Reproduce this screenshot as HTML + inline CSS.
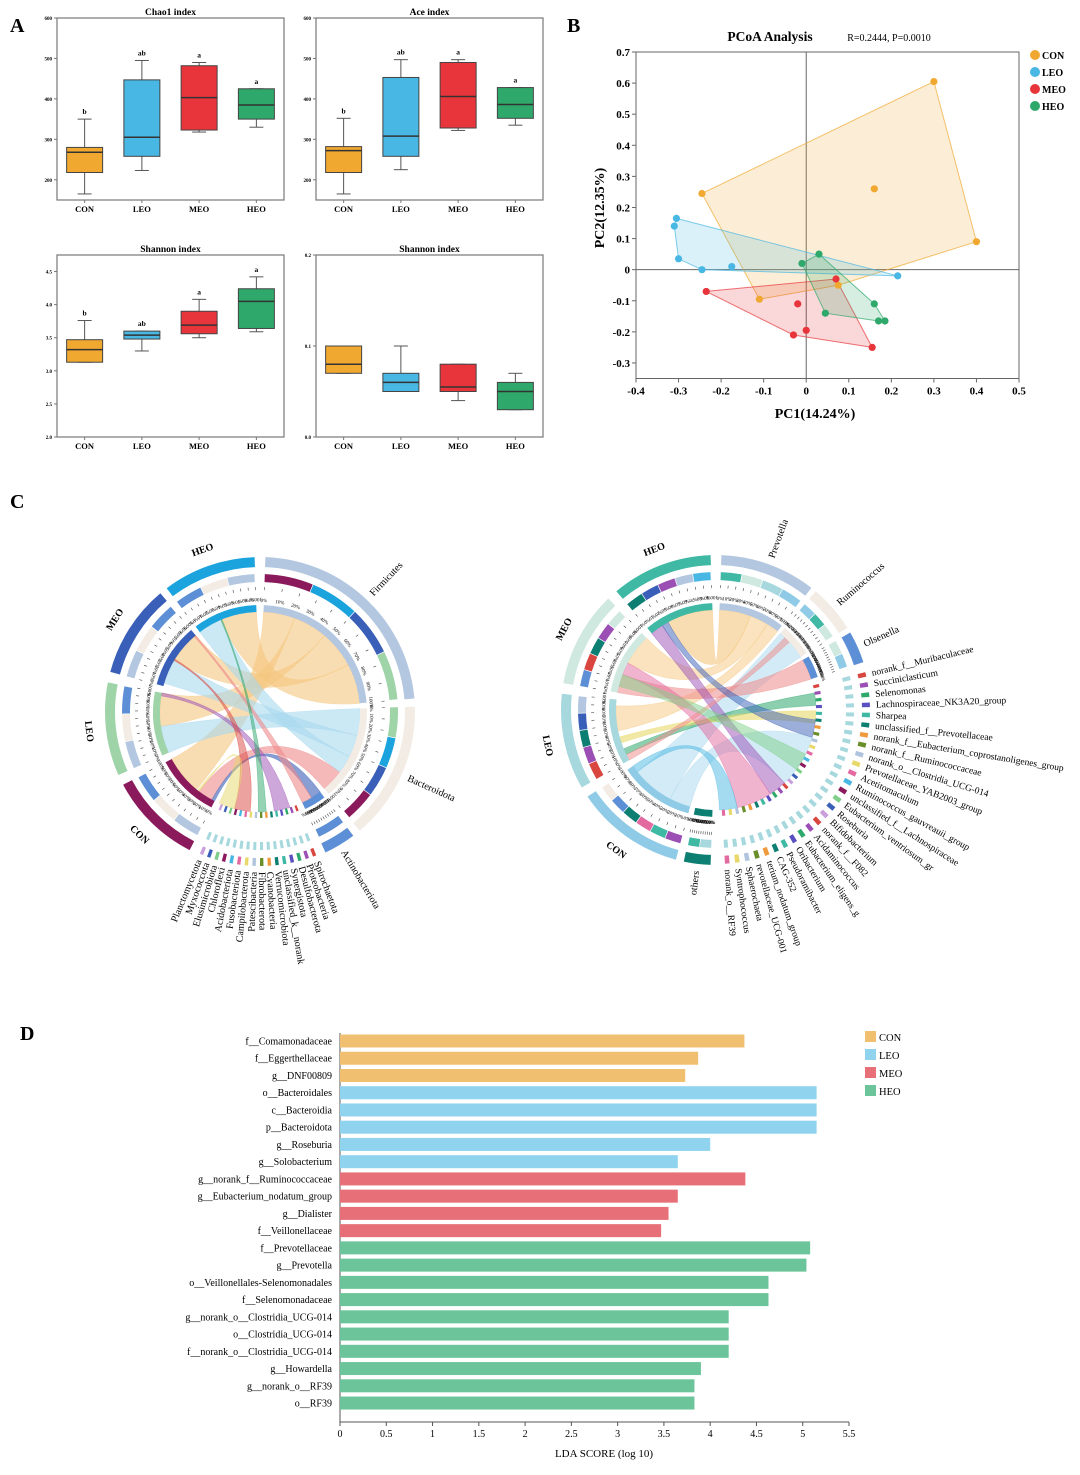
<!DOCTYPE html>
<html><head><meta charset="utf-8">
<style>
html,body{margin:0;padding:0;background:#fff;}
svg{display:block;font-family:"Liberation Serif",serif;}
</style></head>
<body>
<svg id="fig" width="1080" height="1475" viewBox="0 0 1080 1475" xmlns="http://www.w3.org/2000/svg">
<text x="10" y="32" font-size="20" font-weight="bold">A</text>
<text x="567" y="32" font-size="20" font-weight="bold">B</text>
<text x="10" y="508" font-size="20" font-weight="bold">C</text>
<text x="20" y="1040" font-size="20" font-weight="bold">D</text>
<g id="pa"></g><g id="pb"></g><g id="pc"></g><g id="pd"></g>
</svg>
<script>
const NS="http://www.w3.org/2000/svg";
function mk(p,t,a,txt){const e=document.createElementNS(NS,t);for(const k in a)e.setAttribute(k,a[k]);if(txt!==undefined)e.textContent=txt;p.appendChild(e);return e;}
const groups=["CON","LEO","MEO","HEO"];
const gcol=["#f0a830","#49b7e3","#e8353b","#2ea86b"];

// ---------- Panel A data ----------
const chaoBox=[[165,218,268,280,350],[223,258,305,447,495],[318,323,403,482,490],[330,350,385,425,425]];
const chaoLetters=["b","ab","a","a"];
const aceBox=[[165,218,272,282,352],[225,258,308,453,497],[322,328,406,490,497],[335,352,386,428,428]];
const aceLetters=["b","ab","a","a"];
const shanBox=[[3.13,3.13,3.32,3.47,3.76],[3.3,3.48,3.54,3.6,3.6],[3.5,3.56,3.69,3.9,4.08],[3.59,3.64,4.05,4.24,4.42]];
const shanLetters=["b","ab","a","a"];
const simpBox=[[0.07,0.07,0.08,0.1,0.1],[0.05,0.05,0.06,0.07,0.1],[0.04,0.05,0.055,0.08,0.08],[0.03,0.03,0.05,0.06,0.07]];
const simpLetters=["","","",""];
const chaoTicks=[200,300,400,500,600];
const shanTicks=[2.0,2.5,3.0,3.5,4.0,4.5];
const simpTicks=[0.0,0.1,0.2];

function boxPlot(name,title,x0,y0,w,h,dmin,dmax,ticks,boxes,letters,fmt){
  const g=mk(document.getElementById('pa'),'g',{});
  
  
  const ys=v=>y0+h-(v-dmin)/(dmax-dmin)*h;
  const t=mk(g,'text',{x:x0+w/2,y:y0-3,'font-size':9.5,'font-weight':'bold','text-anchor':'middle'},title);
  
  mk(g,'rect',{x:x0,y:y0,width:w,height:h,fill:'none',stroke:'#777','stroke-width':1.2});
  ticks.forEach(v=>{const y=ys(v);mk(g,'line',{x1:x0-3,x2:x0,y1:y,y2:y,stroke:'#777'});
    const tl=mk(g,'text',{x:x0-5,y:y+2,'font-size':5,'text-anchor':'end','font-weight':'bold'},fmt(v));
    });
  const step=w/4;
  boxes.forEach((b,i)=>{const cx=x0+step*(i+0.5)+(i-1.5)*0.5;const bw=36;
    mk(g,'line',{x1:cx,x2:cx,y1:y0+h,y2:y0+h+3,stroke:'#777'});
    const xl=mk(g,'text',{x:cx,y:y0+h+12,'font-size':8.5,'font-weight':'bold','text-anchor':'middle'},groups[i]);
    
    mk(g,'line',{x1:cx,x2:cx,y1:ys(b[0]),y2:ys(b[4]),stroke:'#555','stroke-width':1});
    mk(g,'line',{x1:cx-7,x2:cx+7,y1:ys(b[0]),y2:ys(b[0]),stroke:'#555'});
    mk(g,'line',{x1:cx-7,x2:cx+7,y1:ys(b[4]),y2:ys(b[4]),stroke:'#555'});
    const r=mk(g,'rect',{x:cx-bw/2,y:ys(b[3]),width:bw,height:ys(b[1])-ys(b[3]),fill:gcol[i],stroke:'#444','stroke-width':1});
    
    mk(g,'line',{x1:cx-bw/2,x2:cx+bw/2,y1:ys(b[2]),y2:ys(b[2]),stroke:'#333','stroke-width':1.5});
    if(letters[i]) mk(g,'text',{x:cx,y:ys(b[4])-5,'font-size':7.5,'font-weight':'bold','text-anchor':'middle'},letters[i]);
  });
}
boxPlot('chao1-boxplot','Chao1 index',57,18,227,182,150,600,chaoTicks,chaoBox,chaoLetters,v=>v);
boxPlot('ace-boxplot','Ace index',316,18,227,182,150,600,chaoTicks,aceBox,aceLetters,v=>v);
boxPlot('shannon-boxplot','Shannon index',57,255,227,182,2.0,4.75,shanTicks,shanBox,shanLetters,v=>v.toFixed(1));
boxPlot('simpson-boxplot','Shannon index',316,255,227,182,0,0.2,simpTicks,simpBox,simpLetters,v=>v.toFixed(1));

// ---------- Panel B data ----------
const pcoaX={CON:[-0.245,0.3,0.4,0.16,-0.11,0.075],LEO:[-0.305,-0.31,-0.3,-0.245,-0.175,0.215],MEO:[-0.235,-0.02,0,-0.03,0.155,0.07],HEO:[-0.01,0.03,0.16,0.185,0.17,0.045]};
const pcoaY={CON:[0.245,0.605,0.09,0.26,-0.095,-0.05],LEO:[0.165,0.14,0.035,0,0.01,-0.02],MEO:[-0.07,-0.11,-0.195,-0.21,-0.25,-0.03],HEO:[0.02,0.05,-0.11,-0.165,-0.165,-0.14]};
const pcoaXTicks=[-0.4,-0.3,-0.2,-0.1,0,0.1,0.2,0.3,0.4,0.5];
const pcoaYTicks=[-0.3,-0.2,-0.1,0,0.1,0.2,0.3,0.4,0.5,0.6,0.7];
(function(){
  const g=mk(document.getElementById('pb'),'g',{});
  
  const X0=636,X1=1019,Y0=52,Y1=378.5;
  const xs=v=>X0+(v+0.4)/0.9*(X1-X0), ys=v=>Y0+(0.7-v)/1.05*(Y1-Y0);
  mk(g,'text',{x:770,y:41,'font-size':13.5,'font-weight':'bold','text-anchor':'middle'},'PCoA Analysis');
  mk(g,'text',{x:889,y:41,'font-size':10,'text-anchor':'middle'},'R=0.2444, P=0.0010');
  mk(g,'rect',{x:X0,y:Y0,width:X1-X0,height:Y1-Y0,fill:'none',stroke:'#666','stroke-width':1});
  mk(g,'line',{x1:X0,x2:X1,y1:ys(0),y2:ys(0),stroke:'#666'});
  mk(g,'line',{x1:xs(0),x2:xs(0),y1:Y0,y2:Y1,stroke:'#666'});
  pcoaXTicks.forEach(v=>{mk(g,'line',{x1:xs(v),x2:xs(v),y1:Y1,y2:Y1+4,stroke:'#666'});
    const t=mk(g,'text',{x:xs(v),y:Y1+16,'font-size':11,'font-weight':'bold','text-anchor':'middle'},v===0?'0':v.toFixed(1));
    });
  pcoaYTicks.forEach(v=>{mk(g,'line',{x1:X0-4,x2:X0,y1:ys(v),y2:ys(v),stroke:'#666'});
    const t=mk(g,'text',{x:X0-6,y:ys(v)+4,'font-size':11,'font-weight':'bold','text-anchor':'end'},v===0?'0':v.toFixed(1));
    });
  const xt=mk(g,'text',{x:815,y:418,'font-size':14,'font-weight':'bold','text-anchor':'middle'},'PC1(14.24%)');
  
  const yt=mk(g,'text',{x:0,y:0,'font-size':14,'font-weight':'bold','text-anchor':'middle',transform:'translate(604,208) rotate(-90)'},'PC2(12.35%)');
  
  function hull(pts){pts=pts.slice().sort((a,b)=>a[0]-b[0]||a[1]-b[1]);const cr=(o,a,b)=>(a[0]-o[0])*(b[1]-o[1])-(a[1]-o[1])*(b[0]-o[0]);
    const lo=[],up=[];for(const p of pts){while(lo.length>=2&&cr(lo[lo.length-2],lo[lo.length-1],p)<=0)lo.pop();lo.push(p);}
    for(const p of pts.slice().reverse()){while(up.length>=2&&cr(up[up.length-2],up[up.length-1],p)<=0)up.pop();up.push(p);}
    return lo.slice(0,-1).concat(up.slice(0,-1));}
  groups.forEach((k,i)=>{const pts=pcoaX[k].map((x,j)=>[xs(x),ys(pcoaY[k][j])]);
    const h=hull(pts);const pg=mk(g,'polygon',{points:h.map(p=>p.join(',')).join(' '),fill:gcol[i],'fill-opacity':0.2,stroke:gcol[i],'stroke-opacity':0.7});
    });
  groups.forEach((k,i)=>{pcoaX[k].forEach((x,j)=>{const c=mk(g,'circle',{cx:xs(x),cy:ys(pcoaY[k][j]),r:3.6,fill:gcol[i]});
    });
    const ly=55+i*17;const lc=mk(g,'circle',{cx:1035,cy:ly,r:5,fill:gcol[i]});
    
    mk(g,'text',{x:1042,y:ly+4,'font-size':10,'font-weight':'bold'},k);});
})();

// ---------- Panel C chord diagrams ----------
const leftSegNames=["Firmicutes","Bacteroidota","Actinobacteriota","small","CON","LEO","MEO","HEO"];
const leftSegStart=[2,88,143,158,207,246,285,323];
const leftSegEnd=[85,140,155,204,242,281,320,358];
const leftOuter=["#b3c7e0","#f3ece4","#5d8fd6","#e8e8e8","#8a1a5c","#9fd3a8","#3a5fb8","#1aa3dd"];
const rightSegNames=["Prevotella","Ruminococcus","Olsenella","small","others","CON","LEO","MEO","HEO"];
const rightSegStart=[2,40,60,75,182,195,240,280,320];
const rightSegEnd=[38,58,72,178,192,236,276,316,358];
const rightOuter=["#b3c7e0","#f3ece4","#5d8fd6","#d0e8e8","#0d7f72","#8fcbe6","#a6d8de","#cfe9e0","#3fb8a4"];
const rightSmallLabels=["norank_f__Muribaculaceae","Succiniclasticum","Selenomonas","Lachnospiraceae_NK3A20_group","Sharpea","unclassified_f__Prevotellaceae","norank_f__Eubacterium_coprostanoligenes_group","norank_f__Ruminococcaceae","norank_o__Clostridia_UCG-014","Prevotellaceae_YAB2003_group","Acetitomaculum","Ruminococcus_gauvreauii_group","unclassified_f__Lachnospiraceae","Eubacterium_ventriosum_gr","Roseburia","Bifidobacterium","norank_f__F082","Acidaminococcus","Eubacterium_eligens_g","Oribacterium","Pseudoramibacter","CAG-352","terium_nodatum_group","revotellaceae_UCG-001","Sphaerochaeta","Syntrophococcus","norank_o__RF39"];
const leftSmallLabels=["Spirochaetota","Proteobacteria","Desulfobacterota","Synergistota","unclassified_k__norank","Verrucomicrobiota","Cyanobacteria","Fibrobacterota","Patescibacteria","Campilobacterota","Fusobacteriota","Acidobacteriota","Chloroflexi","Elusimicrobiota","Myxococcota","Planctomycetota"];
const palette=["#d9453f","#9b4fb5","#2ea86b","#5a4fc0","#3fb8a4","#0d7f72","#f09a3e","#6a8f2a","#b0c4de","#e8d86a","#e36aa0","#49b7e3","#8a1a5c","#7fcf8a","#3a5fb8","#c9a0dc"];

function pol(cx,cy,r,a){const t=(a-90)*Math.PI/180;return [cx+r*Math.cos(t),cy+r*Math.sin(t)];}
function arc(cx,cy,r1,r2,a1,a2){const p1=pol(cx,cy,r2,a1),p2=pol(cx,cy,r2,a2),p3=pol(cx,cy,r1,a2),p4=pol(cx,cy,r1,a1);const lg=(a2-a1)>180?1:0;
  return `M${p1}A${r2},${r2} 0 ${lg} 1 ${p2}L${p3}A${r1},${r1} 0 ${lg} 0 ${p4}Z`;}
function ribbon(cx,cy,r,a1,a2,b1,b2){const p1=pol(cx,cy,r,a1),p2=pol(cx,cy,r,a2),q1=pol(cx,cy,r,b1),q2=pol(cx,cy,r,b2);
  return `M${p1}A${r},${r} 0 0 1 ${p2}Q${cx},${cy} ${q1}A${r},${r} 0 0 1 ${q2}Q${cx},${cy} ${p1}Z`;}

function radialText(g,cx,cy,r,am,txt,fs){const p=pol(cx,cy,r,am);let rot,anchor;
  if(am<180){rot=am-90;anchor='start';}else{rot=am+90;anchor='end';}
  return mk(g,'text',{x:p[0],y:p[1]+3,'font-size':fs,'text-anchor':anchor,transform:`rotate(${rot} ${p[0]} ${p[1]})`},txt);}

function chord(name,cx,cy,starts,ends,outer,names,smallLabels,labelSmallRange,secondCols,flows,smallFs){
  const g=mk(document.getElementById('pc'),'g',{});
  
  const R=100;
  flows.forEach(f=>{const [src,dst,frac0,frac1,dfrac0,dfrac1,col,op]=f;
    const a1=starts[src]+(ends[src]-starts[src])*frac0,a2=starts[src]+(ends[src]-starts[src])*frac1;
    const b1=starts[dst]+(ends[dst]-starts[dst])*dfrac0,b2=starts[dst]+(ends[dst]-starts[dst])*dfrac1;
    const p=mk(g,'path',{d:ribbon(cx,cy,R,a1,a2,b1,b2),fill:col,'fill-opacity':op,stroke:col,'stroke-opacity':0.5,'stroke-width':0.6});
    });
  starts.forEach((s,i)=>{const e=ends[i];
    if(names[i]==='small'){
      const n=smallLabels.length;const span=(labelSmallRange[1]-labelSmallRange[0])/n;
      smallLabels.forEach((lb,j)=>{const a=labelSmallRange[0]+span*(j+0.2),b=a+span*0.45;const c=palette[j%palette.length];
        mk(g,'path',{d:arc(cx,cy,R,R+6,a,b),fill:c});
        mk(g,'path',{d:arc(cx,cy,R+30,R+38,a,b),fill:'#a6d8de'});
        mk(g,'path',{d:arc(cx,cy,R+46,R+54,a,b),fill:c});
        const t=radialText(g,cx,cy,R+60,(a+b)/2,lb,smallFs);
        
      });
      return;}
    const seg=mk(g,'path',{d:arc(cx,cy,R,R+7,s,e),fill:outer[i]});
    
    for(let k=0;k<=10;k++){const a=s+(e-s)*k/10;const p1=pol(cx,cy,R+22,a),p2=pol(cx,cy,R+25,a);mk(g,'line',{x1:p1[0],y1:p1[1],x2:p2[0],y2:p2[1],stroke:'#444','stroke-width':0.6});
      const pt=pol(cx,cy,R+12,a);let rot=a-90;if(a>180)rot=a+90;
      mk(g,'text',{x:pt[0],y:pt[1]+2,'font-size':5,'text-anchor':'middle',transform:`rotate(${rot+90} ${pt[0]} ${pt[1]})`},(k*10)+'%');}
    const sc=secondCols[i];const n=sc.length;
    sc.forEach((c,k)=>{const a=s+(e-s)*k/n,b=s+(e-s)*(k+1)/n;mk(g,'path',{d:arc(cx,cy,R+30,R+38,a,b-0.3),fill:c});});
    mk(g,'path',{d:arc(cx,cy,R+45,R+55,s,e),fill:outer[i]});
    const am=(s+e)/2;let t;
    if(/^(CON|LEO|MEO|HEO)$/.test(names[i])){const p=pol(cx,cy,R+72,am);let rot=am;if(am>90&&am<270)rot=am+180;
      t=mk(g,'text',{x:p[0],y:p[1]+3,'font-size':10,'font-weight':'bold','text-anchor':'middle',transform:`rotate(${rot} ${p[0]} ${p[1]})`},names[i]);}
    else t=radialText(g,cx,cy,R+62,am,names[i],10);
    
  });
}
const O="#f5c77e",B="#a8d8ee",Rr="#ef8a8a";
const leftFlows=[[4,0,0.35,1,0,0.22,O,0.6],[5,0,0.45,1,0.22,0.46,O,0.6],[6,0,0.45,1,0.46,0.72,O,0.6],[7,0,0.4,1,0.72,1,O,0.6],
 [4,1,0.05,0.3,0.75,1,Rr,0.6],[5,1,0,0.45,0,0.3,B,0.6],[6,1,0.05,0.45,0.3,0.55,B,0.6],[7,1,0,0.4,0.55,0.75,B,0.6],
 [4,2,0,0.05,0,0.5,"#3a5fb8",0.6],[6,2,0.97,1,0.5,1,Rr,0.6],[5,3,0.95,1,0.1,0.3,"#9b4fb5",0.5],[7,3,0.4,0.42,0.4,0.5,"#2ea86b",0.5],[6,3,0.46,0.48,0.6,0.8,"#d9453f",0.5],[4,3,0.3,0.33,0.8,1,"#e8d86a",0.5]];
const leftSecond=[["#8a1a5c","#1aa3dd","#3a5fb8","#9fd3a8"],["#9fd3a8","#1aa3dd","#3a5fb8","#8a1a5c"],["#5d8fd6"],[],["#b3c7e0","#f3ece4","#5d8fd6"],["#b3c7e0","#f3ece4","#5d8fd6"],["#b3c7e0","#f3ece4","#5d8fd6"],["#5d8fd6","#f3ece4","#b3c7e0"]];
chord('chord-phylum',260,712,leftSegStart,leftSegEnd,leftOuter,leftSegNames,leftSmallLabels,[158,204],leftSecond,leftFlows,10);

const rightFlows=[[8,0,0.3,1,0,0.5,O,0.6],[7,0,0.5,1,0.5,0.8,O,0.5],[6,0,0.5,0.9,0.8,1,O,0.5],[5,1,0.3,0.9,0,1,B,0.5],
 [7,2,0,0.3,0,1,Rr,0.55],[6,3,0.1,0.2,0.05,0.12,"#2ea86b",0.55],[6,3,0.3,0.4,0.15,0.22,"#e8d86a",0.6],[5,3,0,0.3,0.3,0.6,B,0.5],
 [8,3,0,0.2,0.6,0.7,"#9b4fb5",0.5],[7,3,0.3,0.5,0.7,0.9,"#e36aa0",0.5],[5,3,0.9,1,0.9,1,"#49b7e3",0.5],[6,1,0,0.1,0.2,0.4,Rr,0.5],[8,3,0.2,0.3,0.2,0.3,"#3a5fb8",0.5],[7,3,0.1,0.3,0.4,0.5,"#7fcf8a",0.5]];
const rightSecond=[["#3fb8a4","#cfe9e0","#a6d8de","#8fcbe6"],["#8fcbe6","#3fb8a4","#cfe9e0"],["#cfe9e0","#8fcbe6"],[],["#a6d8de","#3fb8a4"],["#9b4fb5","#3fb8a4","#e36aa0","#0d7f72","#5d8fd6","#f3ece4"],["#d9453f","#9b4fb5","#0d7f72","#3a5fb8","#b3c7e0"],["#5d8fd6","#d9453f","#0d7f72","#9b4fb5","#cfe9e0"],["#0d7f72","#3a5fb8","#9b4fb5","#b3c7e0","#49b7e3"]];
chord('chord-genus',716,710,rightSegStart,rightSegEnd,rightOuter,rightSegNames,rightSmallLabels,[75,178],rightSecond,rightFlows,9.5);

// ---------- Panel D LEfSe ----------
const ldaNames=["f__Comamonadaceae","f__Eggerthellaceae","g__DNF00809","o__Bacteroidales","c__Bacteroidia","p__Bacteroidota","g__Roseburia","g__Solobacterium","g__norank_f__Ruminococcaceae","g__Eubacterium_nodatum_group","g__Dialister","f__Veillonellaceae","f__Prevotellaceae","g__Prevotella","o__Veillonellales-Selenomonadales","f__Selenomonadaceae","g__norank_o__Clostridia_UCG-014","o__Clostridia_UCG-014","f__norank_o__Clostridia_UCG-014","g__Howardella","g__norank_o__RF39","o__RF39"];
const ldaValues=[4.37,3.87,3.73,5.15,5.15,5.15,4.0,3.65,4.38,3.65,3.55,3.47,5.08,5.04,4.63,4.63,4.2,4.2,4.2,3.9,3.83,3.83];
const ldaGroup=[0,0,0,1,1,1,1,1,2,2,2,2,3,3,3,3,3,3,3,3,3,3];
const ldaTicks=[0,0.5,1,1.5,2,2.5,3,3.5,4,4.5,5,5.5];
(function(){
  const g=mk(document.getElementById('pd'),'g',{});
  
  const bc=["#f0c070","#8fd3ee","#e76f78","#6cc59a"];
  const X0=340,X1=849,xs=v=>X0+v/5.5*(X1-X0);const y0=1041,dy=17.24;
  mk(g,'line',{x1:X0,x2:X0,y1:1033,y2:1422,stroke:'#555'});
  mk(g,'line',{x1:X0,x2:X1,y1:1422,y2:1422,stroke:'#555'});
  ldaNames.forEach((n,i)=>{const y=y0+i*dy;
    const r=mk(g,'rect',{x:X0,y:y-6.5,width:xs(ldaValues[i])-X0,height:13,fill:bc[ldaGroup[i]]});
    
    const t=mk(g,'text',{x:X0-8,y:y+3.5,'font-size':10,'text-anchor':'end'},n);
    });
  ldaTicks.forEach(v=>{mk(g,'line',{x1:xs(v),x2:xs(v),y1:1422,y2:1426,stroke:'#555'});
    const t=mk(g,'text',{x:xs(v),y:1437,'font-size':10,'text-anchor':'middle'},String(v));
    });
  const xt=mk(g,'text',{x:604,y:1457,'font-size':11,'text-anchor':'middle'},'LDA SCORE (log 10)');
  
  groups.forEach((k,i)=>{const y=1031+i*18;const r=mk(g,'rect',{x:865,y:y,width:11,height:11,fill:bc[i]});
    
    mk(g,'text',{x:879,y:y+10,'font-size':10.5},k);});
})();
</script>
</body></html>
